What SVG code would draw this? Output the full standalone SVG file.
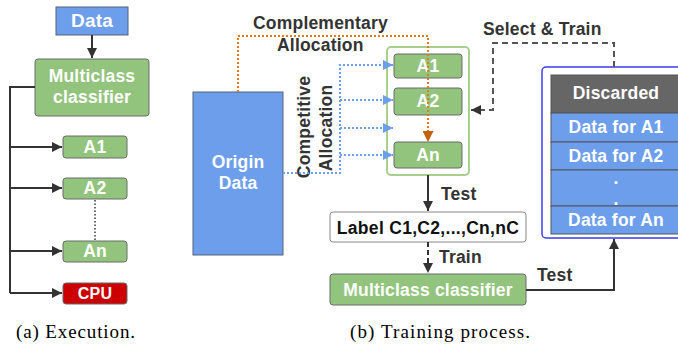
<svg xmlns="http://www.w3.org/2000/svg" width="678" height="345" viewBox="0 0 678 345">
<defs>
<marker id="ah" viewBox="0 0 10 10" refX="10" refY="5" markerWidth="10" markerHeight="10" markerUnits="userSpaceOnUse" orient="auto"><path d="M0,0 L10,5 L0,10 z" fill="#333"/></marker>
<marker id="ahb" viewBox="0 0 10 10" refX="10" refY="5" markerWidth="10" markerHeight="10" markerUnits="userSpaceOnUse" orient="auto"><path d="M0,0 L10,5 L0,10 z" fill="#6d9eeb"/></marker>
<marker id="aho" viewBox="0 0 10 10" refX="10" refY="5" markerWidth="11" markerHeight="11" markerUnits="userSpaceOnUse" orient="auto"><path d="M0,0 L10,5 L0,10 z" fill="#c5600a"/></marker>
</defs>
<style>
.g{fill:#93c47d;stroke:#6b6b6b;stroke-width:1}
.b{fill:#6d9eeb;stroke:#55627a;stroke-width:1}
.w{fill:#fff;font-family:"Liberation Sans",Arial,sans-serif;font-weight:bold;font-size:17.5px;letter-spacing:0.2px;text-anchor:middle}
.k{fill:#333;font-family:"Liberation Sans",Arial,sans-serif;font-weight:bold;font-size:17.5px;letter-spacing:0.2px}
.cap{fill:#000;font-family:"Liberation Serif","Times New Roman",serif;font-size:19px}
.ln{fill:none;stroke:#333;stroke-width:2}
</style>
<rect width="678" height="345" fill="#fff"/>

<g id="data-a"><rect class="b" x="56" y="7" width="72" height="28"/><text class="w" x="92" y="27" style="font-size:19px">Data</text></g>
<g id="mc-a"><rect class="g" x="35" y="59" width="114" height="57" rx="3"/><text class="w" x="92" y="82">Multiclass</text><text class="w" x="92" y="103">classifier</text></g>
<g id="a1-a"><rect class="g" x="63" y="136" width="64" height="22" rx="3"/><text class="w" x="95" y="153">A1</text></g>
<g id="a2-a"><rect class="g" x="63" y="178" width="64" height="21" rx="3"/><text class="w" x="95" y="194">A2</text></g>
<g id="an-a"><rect class="g" x="63" y="241" width="64" height="21" rx="3"/><text class="w" x="95" y="257">An</text></g>
<g id="cpu-a"><rect x="63" y="283" width="64" height="21" rx="3" fill="#cc0000" stroke="#6b6b6b"/><text class="w" x="95" y="299" style="font-size:16px">CPU</text></g>

<g id="origin"><rect class="b" x="193" y="92" width="90" height="163"/><text class="w" x="238" y="168">Origin</text><text class="w" x="238" y="189">Data</text></g>
<g id="labels">
<text class="k" x="253" y="29">Complementary</text>
<text class="k" x="277" y="51">Allocation</text>
<text class="k" transform="translate(310,127) rotate(-90)" text-anchor="middle">Competitive</text>
<text class="k" transform="translate(332,128) rotate(-90)" text-anchor="middle">Allocation</text>
<text class="k" x="483" y="35">Select &amp; Train</text>
<text class="k" x="441" y="200">Test</text>
<text class="k" x="439" y="263">Train</text>
<text class="k" x="537" y="281">Test</text>
</g>
<g id="agents">
<rect x="387" y="47" width="82" height="128" rx="4" fill="#fff" stroke="#a8d08d" stroke-width="2"/>
<g id="a1-b"><rect class="g" x="394" y="54" width="68" height="24" rx="3"/><text class="w" x="428" y="72">A1</text></g>
<g id="a2-b"><rect class="g" x="394" y="88" width="68" height="27" rx="3"/><text class="w" x="428" y="107">A2</text></g>
<g id="an-b"><rect class="g" x="394" y="142" width="68" height="26" rx="3"/><text class="w" x="428" y="161">An</text></g>
</g>
<g id="label-box"><rect x="330" y="212" width="196" height="30" rx="3" fill="#fff" stroke="#888"/><text x="428" y="234" text-anchor="middle" style="fill:#111;font-family:'Liberation Sans',Arial,sans-serif;font-weight:bold;font-size:17.5px;letter-spacing:0.3px">Label C1,C2,...,Cn,nC</text></g>
<g id="mc-b"><rect class="g" x="330" y="274" width="196" height="31" rx="3"/><text class="w" x="428" y="296">Multiclass classifier</text></g>
<g id="pool">
<rect x="542" y="67" width="150" height="171" rx="4" fill="#fff" stroke="#3b3bf0" stroke-width="1.5"/>
<rect x="551" y="75" width="131" height="38" fill="#666" stroke="#555"/>
<rect x="551" y="113" width="131" height="29" fill="#6d9eeb" stroke="#555"/>
<rect x="551" y="142" width="131" height="28" fill="#6d9eeb" stroke="#555"/>
<rect x="551" y="170" width="131" height="36" fill="#6d9eeb" stroke="#555"/>
<rect x="551" y="206" width="131" height="28" fill="#6d9eeb" stroke="#555"/>
<text class="w" x="616" y="99">Discarded</text>
<text class="w" x="616" y="133">Data for A1</text>
<text class="w" x="616" y="162">Data for A2</text>
<text class="w" x="616" y="184">.</text>
<text class="w" x="616" y="205">.</text>
<text class="w" x="616" y="226">Data for An</text>
</g>

<g id="connectors">
<path class="ln" d="M92,35 V58" marker-end="url(#ah)"/>
<path class="ln" d="M35,87 H10 V293"/>
<path class="ln" d="M10,147 H62" marker-end="url(#ah)"/>
<path class="ln" d="M10,188 H62" marker-end="url(#ah)"/>
<path class="ln" d="M10,251 H62" marker-end="url(#ah)"/>
<path class="ln" d="M10,293 H62" marker-end="url(#ah)"/>
<path d="M95,200 V240" fill="none" stroke="#333" stroke-width="1.5" stroke-dasharray="1.5,2"/>
<path d="M238,92 V36 H428 V142" fill="none" stroke="#e07b1f" stroke-width="2" stroke-dasharray="2,2" marker-end="url(#aho)"/>
<g fill="none" stroke="#6d9eeb" stroke-width="2" stroke-dasharray="2,2">
<path d="M283,173 H340 V65 H393" marker-end="url(#ahb)"/>
<path d="M340,100 H393" marker-end="url(#ahb)"/>
<path d="M340,128 H393" marker-end="url(#ahb)"/>
<path d="M340,155 H393" marker-end="url(#ahb)"/>
</g>
<path d="M614,67 V43 H493 V110 H471" fill="none" stroke="#555" stroke-width="2" stroke-dasharray="6,4" marker-end="url(#ah)"/>
<path class="ln" d="M428,175 V211" marker-end="url(#ah)"/>
<path d="M428,242 V273" fill="none" stroke="#333" stroke-width="2" stroke-dasharray="5,3" marker-end="url(#ah)"/>
<path class="ln" d="M526,290 H614 V239" marker-end="url(#ah)"/>
</g>

<text class="cap" x="16" y="338" textLength="119" lengthAdjust="spacing">(a)  Execution.</text>
<text class="cap" x="350" y="338" textLength="180" lengthAdjust="spacing">(b)  Training process.</text>
</svg>
